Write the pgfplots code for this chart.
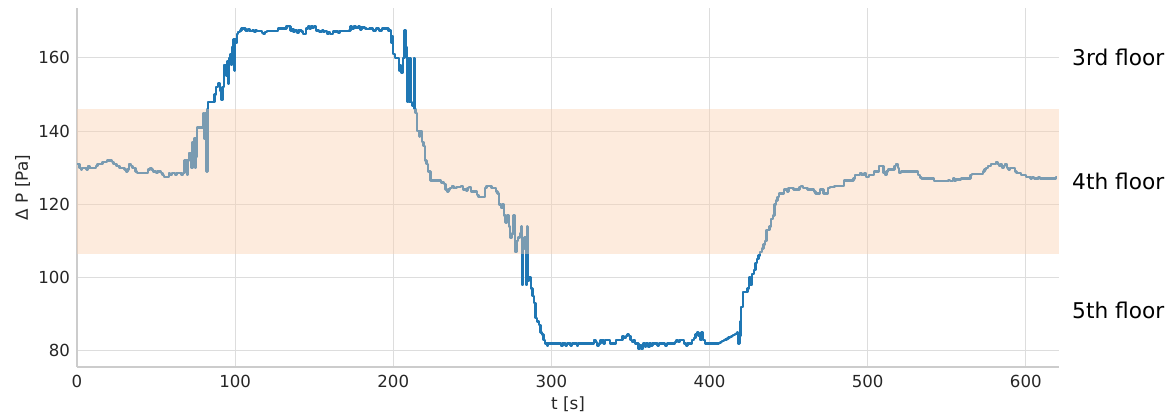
\documentclass[border=0pt]{standalone}
\usepackage{pgfplots}
\pgfplotsset{compat=1.18}
\usepackage{fontspec}
\setmainfont{DejaVu Sans}
\usetikzlibrary{calc}
\definecolor{lineblue}{RGB}{31,119,180}
\definecolor{band}{RGB}{250,207,175}
\definecolor{txt}{RGB}{38,38,38}
\definecolor{gridc}{RGB}{221,221,221}
\definecolor{spine}{RGB}{204,204,204}
\begin{document}
\begin{tikzpicture}
\begin{axis}[
  scale only axis, width=982pt, height=359pt,
  xmin=0, xmax=621, ymin=75.6, ymax=173.6,
  xtick={0,100,200,300,400,500,600},
  ytick={80,100,120,140,160},
  axis x line*=bottom, axis y line*=left,
  axis line style={draw=spine, line width=1.4pt, -},
  major tick length=0pt,
  grid=major,
  major grid style={draw=gridc, line width=1pt},
  /pgf/number format/assume math mode=true,
  tick label style={font=\fontsize{16.6}{20}\selectfont, text=txt},
  xticklabel style={yshift=-4.5pt},
  yticklabel style={xshift=-3.5pt},
  xlabel={t [s]}, ylabel={Δ P [Pa]},
  label style={font=\fontsize{16.8}{20}\selectfont, text=txt},
  xlabel style={at={(axis description cs:0.5,-0.103)}, anchor=center},
  ylabel style={at={(axis description cs:-0.0555,0.5)}, anchor=center},
  clip=false,
]
\addplot[lineblue, line width=2.4pt, line join=round, const plot] coordinates {
(0,131) (1,131) (1.5,130) (2.5,129.5) (3,130) (4,130) (5,130) (6,129.5) (7,130.5) (8,130) (11,130) (12,130.5) (13,131) (15,131) (16,131.5) (19,132) (21,132) (22,131.5) (23,131) (25,130.5) (27,130) (29,130) (30,129.5) (31,129) (32,129.5) (33,131) (34,130.5) (35,130) (37,129) (38,128.5) (42,128.5) (44,128.5) (45,129.5) (46,130) (47,129.5) (48,129) (50,128.5) (51,129) (53,128.5) (54,128) (55,127.5) (57,127.5) (58,128.5) (59,128) (60,128.5) (61,128.5) (62,128) (63,128.5) (65,128.5) (66,128) (67,128.5)
(68,132) (69,132) (69.5,128) (70,132) (71,134) (72,134) (72.5,130) (73,137) (74,138) (74.5,130) (75,138) (75.5,133) (76,141) (79,141) (79.5,144) (80,145) (80.5,138) (81,145) (81.5,145) (82,129) (82.5,146) (83,148) (86,148) (87,150) (88,152) (89,153) (90,153) (90.5,151) (91,150) (91.5,148.5) (92,152) (93,158) (94,158) (94.5,155) (95,159) (95.5,153) (96,160) (97,161) (97.5,158) (98,163) (98.5,160) (99,165) (99.5,156.5) (100,165) (100.5,164) (101,166.5) (102,167) (103,167.5) (104,168)
(106,168) (106.5,167.5) (108,167.8) (109,167.3) (111,167.5) (112,167) (113,167.5) (114,167.3) (116,167.3) (117,166.8) (118,166.5) (119,167) (120,167.3) (126,167.3) (127,168) (132,168) (132.5,168.7) (134,168.5) (135,167.5) (136,167.8) (137,167) (138,167.5) (139,166.8) (140,167.5) (142,167.2) (143,166.5) (144,166.5) (145,168) (146,168.5) (147,168) (148,168.7) (149,168.2) (150,168.5) (151,167.5) (153,167.2) (155,167.5) (156,167) (157,167.3) (158,166.5) (159,167) (160,166.5) (162,167.2) (164,167.2) (165,166.8) (166,167.3) (170,167.3) (172,167.5) (173,168.5) (174,168) (175,168.7) (176,168.2) (178,168.5) (179,167.7) (180,168.3) (182,168) (183,167.8) (185,168) (187,167.5) (189,168) (191,167.5) (193,168) (196,168) (197,167.3) (198,167.5)
(198.5,166) (199,164) (199.5,166) (200,161) (201,160) (203,160) (203.5,156.5) (204,158) (205,156) (206,160) (207,167.5) (208,163) (208.5,158) (209,148) (209.5,160) (210,148) (210.5,160) (211,148) (212,147) (213,160) (213.5,146) (214,145) (215,140) (216,140) (216.5,138.5) (217,140) (218,137) (219,136) (220,132) (221,131) (222,129) (223,129) (223.5,126.5) (229,126.5) (230,126) (232,125.5) (233,124) (234,123.5) (235,124) (236,124.5) (237,125) (238,124.5) (240,124.7) (242,124.7) (243,125) (244,124) (246,123.8) (247,124.5) (248,124.7) (249,123.5) (252,123.5) (253,122.5) (254,122) (257,122) (258,124.5) (259,125) (261,125) (262,124.5) (264,124.5) (265,123.5) (266,123) (267,120) (268,119) (269,120) (270,117) (271,115) (272,117) (273,114) (274,111) (275,112) (276,117) (277,107) (278,110) (279,111) (280,112) (281,114) (281.5,98) (282,108) (283,111) (284,98) (284.5,114) (285,99) (286,100) (287,97) (288,95) (289,93) (290,89) (291,88) (292,87) (293,85) (294,84.5) (295,83) (296,82) (297,82) (297.5,81.3) (298,82)
(305,82) (306,81.3) (307,82) (309,81.5) (310,82) (312,81.5) (313,82) (315,82) (316,81.3) (317,82) (320,82) (326,82) (327,83) (328,82.5) (329,81.5) (330,82) (331,83) (332,83) (333,82) (334,83) (336,83) (337,82) (338,82) (340,82) (341,83) (344,83) (345,84) (346,83.5) (347,84) (348,84.5) (349,84) (350,83) (351,82.5) (352,83) (353,82) (354,82) (355,80.5) (356,81.5) (357,80.5) (358,82) (359,81) (360,82) (361,81) (362,82) (363,81.5) (364,82) (366,82) (367,81.5) (368,82) (371,82) (372,81.5) (373,82) (377,82) (378,82.5) (379,83) (380,82.5) (381,83) (383,83) (384,82) (385,81.5) (386,82) (388,82) (389,83) (390,83.5) (391,84.5) (392,85) (393,84) (394,83) (395,85) (396,83) (397,82) (398,82) (405,82)
(406,82.23) (407,82.46) (408,82.69) (409,82.92) (410,83.15) (411,83.38) (412,83.62) (413,83.85) (414,84.08) (415,84.31) (416,84.54) (417,84.77) (417.5,85) (418,82) (419,84) (419.5,88) (420,92) (421,96) (423,96) (424,97) (425,100) (426,98) (427,101) (428,102) (429,104) (430,105) (431,106) (432,107) (433,108) (434,109) (435,110) (436,113) (437,113) (438,114) (439,116) (440,117) (441,120) (442,121) (443,122) (444,123) (446,123) (447,124) (448,124) (449,123.5) (450,124.5) (452,124.5) (453,124) (456,124) (457,124.8) (458,125) (459,124.5) (461,124.5) (462,124) (464,124) (466,123.5) (467,123) (469,123) (470,124) (471,124) (472,123) (474,123) (475,124.5) (476,124.7) (478,124.7) (479,125) (484,125) (485,126.5) (490,126.5) (491,127) (492,128) (494,128) (495,128.5) (496,128) (498,128.5) (499,127.5) (500,127.5) (501,128) (503,128) (504,129) (506,129) (507,130.5) (509,130.5) (510,128.5) (511,128) (512,129) (513,129.5) (516,129.5) (517,130.5) (518,131) (519,130) (520,128.5) (521,129) (530,129) (532,128) (533,127.3) (534,127) (541,127) (542,126.3) (550,126.3) (551,126.6) (552,126.3) (554,127) (555,126.3) (556,126.8) (558,126.8) (559,127) (564,127) (565,128) (566,128.3) (572,128.3) (573,129) (574,129.5) (575,130) (576,130.5) (578,131) (580,131) (581,131.5) (582,131) (583,130.5) (584,131) (585,130) (586,130.5) (587,131) (588,130) (589,129.5) (590,130) (592,130) (593,129) (594,128.5) (596,128.5) (597,128) (599,128) (600,127.5) (602,127.5) (603,127) (604,127.5) (605,127) (607,127) (608,127.5) (609,127) (618,127) (619,127.5) (620,127.5)
};
\addplot[draw=none, fill=band, fill opacity=0.42] coordinates {(0,106.5) (621,106.5) (621,146) (0,146)};
\node[anchor=west, font=\fontsize{21.7}{26}\selectfont, inner sep=0pt] at (axis cs:621,160) {\hspace{13pt}3rd floor};
\node[anchor=west, font=\fontsize{21.7}{26}\selectfont, inner sep=0pt] at (axis cs:621,126.2) {\hspace{13pt}4th floor};
\node[anchor=west, font=\fontsize{21.7}{26}\selectfont, inner sep=0pt] at (axis cs:621,91) {\hspace{13pt}5th floor};
\coordinate (LL) at (rel axis cs:0,0);
\coordinate (UR) at (rel axis cs:1,1);
\end{axis}
\pgfresetboundingbox
\path[use as bounding box] ($(LL)+(-77pt,-47pt)$) rectangle ($(UR)+(114pt,8pt)$);
\end{tikzpicture}
\end{document}
